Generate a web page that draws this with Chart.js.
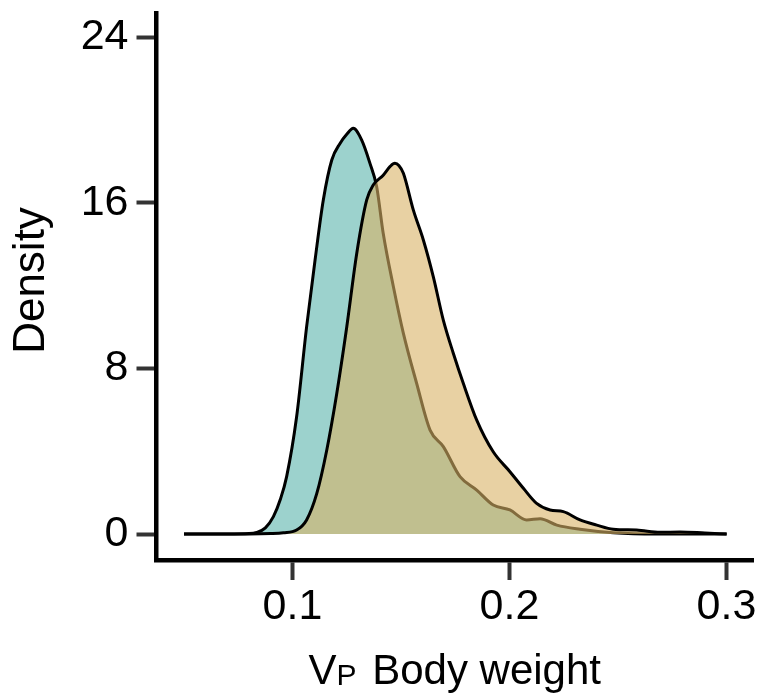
<!DOCTYPE html>
<html>
<head>
<meta charset="utf-8">
<script src="https://cdn.jsdelivr.net/npm/chart.js@4.4.1/dist/chart.umd.min.js"></script>
<style>
  html, body { margin: 0; padding: 0; background: #fff; }
  #wrap { width: 762px; height: 698px; }
</style>
</head>
<body>
<div id="wrap"><canvas id="chart" width="762" height="698"></canvas></div>
<script>
// density curves
const tealX = [0.050, 0.070, 0.080, 0.0835, 0.0875, 0.0912, 0.0945, 0.0973, 0.1019, 0.1065, 0.1104, 0.1142, 0.1181, 0.1219, 0.1250, 0.1280, 0.1319, 0.1357, 0.1388, 0.1418, 0.1465, 0.1511, 0.1572, 0.1634, 0.1695, 0.1772, 0.1849, 0.1925, 0.2002, 0.2079, 0.2141, 0.2218, 0.2325, 0.2478, 0.2678, 0.3000];
const tealY = [0, 0, 0.02, 0.08, 0.3, 0.84, 1.7, 2.77, 5.66, 10.0, 13.23, 16.13, 18.06, 18.86, 19.3, 19.59, 19.02, 17.9, 16.77, 14.52, 11.94, 9.69, 7.28, 5.02, 4.22, 2.77, 2.12, 1.40, 1.16, 0.68, 0.74, 0.43, 0.23, 0.06, 0.0, 0.0];

const tanX = [0.050, 0.080, 0.090, 0.0958, 0.1019, 0.1065, 0.1112, 0.1158, 0.1204, 0.1250, 0.1296, 0.1342, 0.1372, 0.1418, 0.1450, 0.1472, 0.1490, 0.1511, 0.1557, 0.1603, 0.1649, 0.1695, 0.1741, 0.1787, 0.1849, 0.1925, 0.2002, 0.2064, 0.2125, 0.2187, 0.2248, 0.2325, 0.2402, 0.2478, 0.2586, 0.2694, 0.2786, 0.2900, 0.3001];
const tanY = [0, 0, 0.02, 0.06, 0.19, 0.68, 1.96, 4.06, 6.79, 10.0, 13.55, 16.13, 16.85, 17.33, 17.75, 17.9, 17.8, 17.42, 15.64, 14.2, 12.42, 10.33, 8.73, 7.28, 5.5, 3.97, 3.01, 2.21, 1.48, 1.16, 1.08, 0.68, 0.43, 0.23, 0.19, 0.08, 0.1, 0.05, 0.0];

const xTicks = [0.1, 0.2, 0.3];
const xTickLabels = ['0.1', '0.2', '0.3'];
const yTicks = [0, 8, 16, 24];
const yTickLabels = ['0', '8', '16', '24'];

const FONT = "'Liberation Sans', Arial, Helvetica, sans-serif";

const toPoints = (xs, ys) => xs.map((x, i) => ({x: x, y: ys[i]}));

// keep the plot area where the picture has it
const noPad = s => {
  s.paddingTop = 0; s.paddingBottom = 0; s.paddingLeft = 0; s.paddingRight = 0;
};

// axis titles (x title has a subscript P)
const titles = {
  id: 'titles',
  afterDraw(chart) {
    const ctx = chart.ctx;
    const area = chart.chartArea;
    ctx.save();
    ctx.fillStyle = '#000';
    ctx.textBaseline = 'alphabetic';
    // Density
    ctx.save();
    ctx.translate(44, 280.5);
    ctx.rotate(-Math.PI / 2);
    ctx.textAlign = 'center';
    ctx.font = '44px ' + FONT;
    ctx.fillText('Density', 0, 0);
    ctx.restore();
    // V_P Body weight
    ctx.textAlign = 'left';
    ctx.font = '42px ' + FONT;
    const wV = ctx.measureText('V').width;
    const wRest = ctx.measureText(' Body weight').width;
    ctx.font = '30px ' + FONT;
    const wP = ctx.measureText('P').width;
    const gap = 4;
    const total = wV + wP + gap + wRest;
    let x = (area.left + area.right) / 2 - total / 2;
    const base = 684;
    ctx.font = '42px ' + FONT;
    ctx.fillText('V', x, base);
    ctx.font = '30px ' + FONT;
    ctx.fillText('P', x + wV, base + 1);
    ctx.font = '42px ' + FONT;
    ctx.fillText(' Body weight', x + wV + wP + gap, base);
    ctx.restore();
  }
};

new Chart(document.getElementById('chart').getContext('2d'), {
  type: 'line',
  data: {
    datasets: [
      {
        label: 'tan',
        data: toPoints(tanX, tanY),
        borderColor: '#000',
        borderWidth: 3,
        backgroundColor: 'rgba(216,179,101,0.6)',
        fill: 'origin',
        pointRadius: 0,
        cubicInterpolationMode: 'monotone'
      },
      {
        label: 'teal',
        data: toPoints(tealX, tealY),
        borderColor: '#000',
        borderWidth: 3,
        backgroundColor: 'rgba(90,180,172,0.6)',
        fill: 'origin',
        pointRadius: 0,
        cubicInterpolationMode: 'monotone'
      }
    ]
  },
  options: {
    responsive: false,
    animation: false,
    devicePixelRatio: 1,
    layout: {padding: {top: 13, right: 9, left: 0, bottom: 0}},
    plugins: {legend: {display: false}, tooltip: {enabled: false}},
    scales: {
      x: {
        type: 'linear',
        min: 0.03733,
        max: 0.31221,
        afterFit: s => { s.height = 138; noPad(s); },
        afterBuildTicks: s => { s.ticks = xTicks.map(v => ({value: v})); },
        grid: {drawOnChartArea: false, drawTicks: true, tickLength: 20, tickWidth: 4, tickColor: '#333'},
        border: {display: true, color: '#000', width: 4.5},
        ticks: {
          padding: 1,
          color: '#000',
          font: {family: FONT, size: 43},
          maxRotation: 0,
          callback: v => xTickLabels[xTicks.indexOf(v)]
        }
      },
      y: {
        min: -1.255,
        max: 25.16,
        afterFit: s => { s.width = 156.5; noPad(s); },
        afterBuildTicks: s => { s.ticks = yTicks.map(v => ({value: v})); },
        grid: {drawOnChartArea: false, drawTicks: true, tickLength: 20, tickWidth: 4, tickColor: '#333'},
        border: {display: true, color: '#000', width: 4.5},
        ticks: {
          padding: 8,
          color: '#000',
          font: {family: FONT, size: 43},
          callback: v => yTickLabels[yTicks.indexOf(v)]
        }
      }
    }
  },
  plugins: [titles]
});
</script>
</body>
</html>
